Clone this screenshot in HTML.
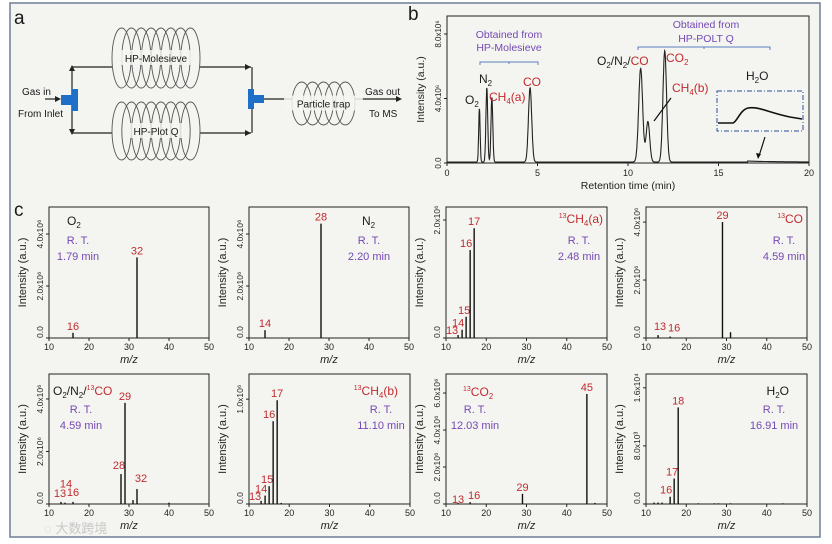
<!DOCTYPE html>
<html><head><meta charset="utf-8">
<style>
html,body{margin:0;padding:0;background:#fff;}
svg{display:block;font-family:"Liberation Sans","Noto Sans CJK SC",sans-serif;}
.red{fill:#c22a2e}.pur{fill:#7448b4}.blk{fill:#1a1a1a}
</style></head>
<body>
<svg id="fig" width="832" height="544" viewBox="0 0 832 544" xmlns="http://www.w3.org/2000/svg">
<rect x="10" y="3" width="810" height="534" fill="#f4f5f1" stroke="#6f7f96" stroke-width="1.5"/>
<text x="14" y="24" font-size="19" class="blk">a</text>
<text x="408" y="20" font-size="19" class="blk">b</text>
<text x="14" y="216" font-size="19" class="blk">c</text>

<g id="diagram" stroke="#222" stroke-width="1.2" fill="none">
  <line x1="72" y1="67" x2="112" y2="67"/><line x1="200" y1="67" x2="251" y2="67"/>
  <line x1="72" y1="133" x2="112" y2="133"/><line x1="200" y1="133" x2="251" y2="133"/>
  <line x1="72" y1="70" x2="72" y2="130"/><line x1="252" y1="67" x2="252" y2="133"/>
  <line x1="45" y1="99" x2="60" y2="99"/><line x1="264" y1="99" x2="292" y2="99"/><line x1="355" y1="99" x2="398" y2="99"/>
  <path d="M72 65 l-3 6 h6z M72 135 l-3 -6 h6z M251 67 l-6 -3 v6z M251 133 l-6 -3 v6z M61 99 l-6 -3 v6z M402 99 l-6 -3 v6z" fill="#222" stroke="none"/>
</g>
<path d="M61 95 h11 v-6 h6 v22 h-6 v-6 h-11z" fill="#1d6fc8"/>
<path d="M248 89 h6 v6 h10 v8 h-10 v6 h-6z" fill="#1d6fc8"/>
<g id="coils"></g>
<g font-size="10" class="blk">
<text x="22" y="95">Gas in</text><text x="18" y="117">From Inlet</text>
<text x="365" y="95">Gas out</text><text x="369" y="117">To MS</text>
</g>

<g id="chrom"></g>
<g id="spectra"></g>
<text x="44" y="533" font-size="13" fill="#c8c8c8">◌ 大数跨境</text>
</svg>
<script>
const NS="http://www.w3.org/2000/svg";
function mk(tag,attrs,parent,text){const e=document.createElementNS(NS,tag);for(const k in attrs)e.setAttribute(k,attrs[k]);if(text!==undefined)e.textContent=text;parent.appendChild(e);return e;}

const coilG=document.getElementById('coils');
function coil(x0,y0,w,h,n,label,name){
  const g=mk('g',{},coilG);
  
  
  const ew=w/(n*0.45+1);
  for(let i=0;i<n;i++){
    const cx=x0+ew/2+i*(w-ew)/(n-1);
    mk('ellipse',{cx:cx,cy:y0+h/2,rx:ew/2,ry:h/2,fill:'none',stroke:'#555','stroke-width':0.9},g);
  }
  const tw=label.length*5.6+6;
  mk('rect',{x:x0+w/2-tw/2,y:y0+h/2-8,width:tw,height:15,rx:3,fill:'#f4f5f1',opacity:0.85},g);
  mk('text',{x:x0+w/2,y:y0+h/2+4,'font-size':10,'text-anchor':'middle',fill:'#1a1a1a'},g,label);
}
coil(112,28,88,60,8,'HP-Molesieve','coil-hp-molesieve');
coil(112,102,88,58,8,'HP-Plot Q','coil-hp-plot-q');
coil(292,82,63,43,5,'Particle trap','coil-particle-trap');

const peakNames=['O2','N2','CH4(a)','CO','O2/N2/CO','CH4(b)','CO2'];
const peakTimes=[1.79,2.20,2.48,4.59,10.70,11.10,12.03];
const peakHeights=[3.3,4.6,4.0,4.6,5.8,2.5,6.9];
const peakWidths=[0.04,0.05,0.05,0.09,0.11,0.1,0.1];
const chromXTicks=[0,5,10,15,20];
const chromYTicks=[0,4,8];
const chromYTickLabels=['0.0','4.0x10⁶','8.0x10⁶'];

(function(){
  const g=document.getElementById('chrom');
  const L=447,R=809,T=16,B=163, xMax=20, yMax=8*(B-T)/(B-34);
  const X=v=>L+(v/xMax)*(R-L), Y=v=>B-(v/yMax)*(B-T);
  const box=mk('rect',{x:L,y:T,width:R-L,height:B-T,fill:'none',stroke:'#222','stroke-width':1},g);
  
  
  chromXTicks.forEach(v=>{
    mk('line',{x1:X(v),y1:B,x2:X(v),y2:B+3,stroke:'#222'},g);
    const t=mk('text',{x:X(v),y:B+13,'font-size':9,'text-anchor':'middle',fill:'#222'},g,v);
    
    
  });
  chromYTicks.forEach((v,i)=>{
    mk('line',{x1:L-3,y1:Y(v),x2:L,y2:Y(v),stroke:'#222'},g);
    const t=mk('text',{x:L-6,y:Y(v),'font-size':8,'text-anchor':'middle',fill:'#222',transform:`rotate(-90 ${L-6} ${Y(v)})`},g,chromYTickLabels[i]);
    
    
  });
  const xt=mk('text',{x:(L+R)/2,y:B+26,'font-size':10.5,'text-anchor':'middle',fill:'#222'},g,'Retention time (min)');
  
  
  const yt=mk('text',{x:424,y:(T+B)/2,'font-size':10.5,'text-anchor':'middle',fill:'#222',transform:`rotate(-90 424 ${(T+B)/2})`},g,'Intensity (a.u.)');
  
  
  let d='';
  for(let t=0;t<=20;t+=0.01){
    let v=0.06+(t>16.6&&t<20?0.05*Math.exp(-(t-16.9)*0.6):0);
    peakTimes.forEach((p,i)=>{v+=peakHeights[i]*Math.exp(-Math.pow((t-p)/peakWidths[i],2)/2);});
    d+=(d?'L':'M')+X(t).toFixed(1)+' '+Y(Math.min(v,yMax)).toFixed(1);
  }
  const tr=mk('path',{d:d,fill:'none',stroke:'#222','stroke-width':1.1},g);
  
  
  const ins=mk('rect',{x:717,y:91,width:86,height:40,fill:'none',stroke:'#2a4f9a','stroke-width':1,'stroke-dasharray':'5 2 1 2'},g);
  
  
  mk('path',{d:'M718 123 L733 123 C737 122 740 110 748 108 C758 106 770 113 790 117 L802 119',fill:'none',stroke:'#111','stroke-width':1.6},g);
  mk('line',{x1:765,y1:137,x2:759,y2:156,stroke:'#111','stroke-width':1.2},g);
  mk('path',{d:'M758 159 l-2 -6 l5 1z',fill:'#111'},g);
  mk('line',{x1:671,y1:98,x2:654,y2:121,stroke:'#111','stroke-width':1.2},g);
  mk('path',{d:'M480 65 v-3 h58 v3 M509 62 v2',fill:'none',stroke:'#5b7fc0','stroke-width':1},g);
  mk('path',{d:'M638 50 v-3 h132 v3 M704 47 v2',fill:'none',stroke:'#5b7fc0','stroke-width':1},g);
  const ann=[['Obtained from',509,38],['HP-Molesieve',509,51],['Obtained from',706,28],['HP-POLT Q',706,42]];
  ann.forEach(a=>{const t=mk('text',{x:a[1],y:a[2],'font-size':10.5,'text-anchor':'middle',class:'pur'},g,a[0]);
    
    });
  const labs=mk('g',{'font-size':12},g);
  
  
  labs.innerHTML=`<text x="465" y="104" class="blk">O<tspan font-size="8" dy="3">2</tspan></text>
  <text x="479" y="83" class="blk">N<tspan font-size="8" dy="3">2</tspan></text>
  <text x="489" y="101" class="red">CH<tspan font-size="8" dy="3">4</tspan><tspan dy="-3">(a)</tspan></text>
  <text x="523" y="86" class="red">CO</text>
  <text x="597" y="65" class="blk">O<tspan font-size="8" dy="3">2</tspan><tspan dy="-3">/N</tspan><tspan font-size="8" dy="3">2</tspan><tspan dy="-3">/</tspan><tspan class="red">CO</tspan></text>
  <text x="666" y="62" class="red">CO<tspan font-size="8" dy="3">2</tspan></text>
  <text x="672" y="92" class="red">CH<tspan font-size="8" dy="3">4</tspan><tspan dy="-3">(b)</tspan></text>
  <text x="746" y="80" class="blk">H<tspan font-size="8" dy="3">2</tspan><tspan dy="-3">O</tspan></text>`;
})();

const mzO2=[16,32];           const intO2=[0.2,3.1];
const mzN2=[14,28];           const intN2=[0.3,4.4];
const mzCH4a=[13,14,15,16,17]; const intCH4a=[0.05,0.14,0.36,1.49,1.86];
const mzCO=[13,16,29,31];     const intCO=[0.1,0.05,4.0,0.2];
const mzMix=[13,14,16,28,29,31,32,40]; const intMix=[0.08,0.05,0.08,1.14,3.85,0.15,0.57,0.05];
const mzCH4b=[13,14,15,16,17,18]; const intCH4b=[0.03,0.08,0.17,0.79,0.99,0.01];
const mzCO2=[13,16,29,45,47]; const intCO2=[0.05,0.1,0.55,5.95,0.06];
const mzH2O=[12,13,14,16,17,18,23,27,28,31,44]; const intH2O=[0.02,0.02,0.02,0.1,0.35,1.33,0.01,0.01,0.01,0.01,0.01];
const labelsO2=['16','32'], labelsN2=['14','28'], labelsCH4a=['13','14','15','16','17'], labelsCO=['13','16','29'];
const labelsMix=['13','14','16','28','29','32'], labelsCH4b=['13','14','15','16','17'], labelsCO2=['13','16','29','45'], labelsH2O=['16','17','18'];
const yTicksA=[0,2,4], yTickTextA=['0.0','2.0x10⁶','4.0x10⁶'];
const yTicksB=[0,2], yTickTextB=['0.0','2.0x10⁶'];
const yTicksC=[0,1], yTickTextC=['0.0','1.0x10⁶'];
const yTicksD=[0,2,4,6], yTickTextD=['0.0','2.0x10⁶','4.0x10⁶','6.0x10⁶'];
const yTicksE=[0,0.8,1.6], yTickTextE=['0.0','8.0x10³','1.6x10⁴'];
const mzTicks=[10,20,30,40,50];

const panels=[
 {name:'spectrum-o2',L:49,R:209,T:207,B:338,yMax:5.04,mz:mzO2,inten:intO2,labels:labelsO2,yt:yTicksA,ytt:yTickTextA,lo:{},
  title:'<tspan class="blk">O<tspan font-size="8" dy="3">2</tspan></tspan>',tx:67,ty:225,ta:'start',rx:78,ry:244},
 {name:'spectrum-n2',L:249,R:409,T:207,B:338,yMax:5.04,mz:mzN2,inten:intN2,labels:labelsN2,yt:yTicksA,ytt:yTickTextA,lo:{},
  title:'<tspan class="blk">N<tspan font-size="8" dy="3">2</tspan></tspan>',tx:362,ty:225,ta:'start',rx:369,ry:244},
 {name:'spectrum-13ch4-a',L:446,R:607,T:207,B:338,yMax:2.22,mz:mzCH4a,inten:intCH4a,labels:labelsCH4a,yt:yTicksB,ytt:yTickTextB,lo:{'13':[-6,2],'14':[-4,0],'15':[-2,0],'16':[-4,0]},
  title:'<tspan class="red"><tspan font-size="7" dy="-5">13</tspan><tspan dy="5">CH</tspan><tspan font-size="8" dy="3">4</tspan><tspan dy="-3">(a)</tspan></tspan>',tx:603,ty:223,ta:'end',rx:579,ry:244},
 {name:'spectrum-13co',L:646,R:807,T:207,B:338,yMax:4.52,mz:mzCO,inten:intCO,labels:labelsCO,yt:yTicksA,ytt:yTickTextA,lo:{'13':[2,-2],'16':[4,-2]},
  title:'<tspan class="red"><tspan font-size="7" dy="-5">13</tspan><tspan dy="5">CO</tspan></tspan>',tx:803,ty:223,ta:'end',rx:784,ry:244},
 {name:'spectrum-o2-n2-13co',L:49,R:209,T:374,B:504,yMax:4.95,mz:mzMix,inten:intMix,labels:labelsMix,yt:yTicksA,ytt:yTickTextA,lo:{'13':[-1,-2],'14':[1,-12],'16':[0,-3],'28':[-2,-2],'32':[4,-4]},
  title:'<tspan class="blk">O<tspan font-size="8" dy="3">2</tspan><tspan dy="-3">/N</tspan><tspan font-size="8" dy="3">2</tspan><tspan dy="-3">/</tspan></tspan><tspan class="red"><tspan font-size="7" dy="-5">13</tspan><tspan dy="5">CO</tspan></tspan>',tx:53,ty:395,ta:'start',rx:81,ry:413},
 {name:'spectrum-13ch4-b',L:249,R:410,T:374,B:504,yMax:1.24,mz:mzCH4b,inten:intCH4b,labels:labelsCH4b,yt:yTicksC,ytt:yTickTextC,lo:{'13':[-6,2],'14':[-4,0],'15':[-2,0],'16':[-4,0]},
  title:'<tspan class="red"><tspan font-size="7" dy="-5">13</tspan><tspan dy="5">CH</tspan><tspan font-size="8" dy="3">4</tspan><tspan dy="-3">(b)</tspan></tspan>',tx:398,ty:395,ta:'end',rx:381,ry:413},
 {name:'spectrum-13co2',L:446,R:607,T:374,B:504,yMax:7.03,mz:mzCO2,inten:intCO2,labels:labelsCO2,yt:yTicksD,ytt:yTickTextD,lo:{'13':[0,3],'16':[4,0]},
  title:'<tspan class="red"><tspan font-size="7" dy="-5">13</tspan><tspan dy="5">CO</tspan><tspan font-size="8" dy="3">2</tspan></tspan>',tx:463,ty:396,ta:'start',rx:475,ry:413},
 {name:'spectrum-h2o',L:646,R:807,T:374,B:504,yMax:1.79,mz:mzH2O,inten:intH2O,labels:labelsH2O,yt:yTicksE,ytt:yTickTextE,lo:{'16':[-4,0],'17':[-2,0]},
  title:'<tspan class="blk">H<tspan font-size="8" dy="3">2</tspan><tspan dy="-3">O</tspan></tspan>',tx:789,ty:395,ta:'end',rx:774,ry:413}
];
const rtTexts=['1.79 min','2.20 min','2.48 min','4.59 min','4.59 min','11.10 min','12.03 min','16.91 min'];

const SG=document.getElementById('spectra');
panels.forEach((p,pi)=>{
  const g=mk('g',{},SG);
  
  
  const X=v=>p.L+(v-10)/40*(p.R-p.L), Y=v=>p.B-(v/p.yMax)*(p.B-p.T);
  mk('rect',{x:p.L,y:p.T,width:p.R-p.L,height:p.B-p.T,fill:'none',stroke:'#222','stroke-width':1},g);
  mzTicks.forEach(v=>{
    mk('line',{x1:X(v),y1:p.B,x2:X(v),y2:p.B+3,stroke:'#222'},g);
    const t=mk('text',{x:X(v),y:p.B+12,'font-size':9,'text-anchor':'middle',fill:'#222'},g,v);
    
    
  });
  p.yt.forEach((v,i)=>{
    mk('line',{x1:p.L-3,y1:Y(v),x2:p.L,y2:Y(v),stroke:'#222'},g);
    const t=mk('text',{x:p.L-6,y:Y(v),'font-size':8.5,'text-anchor':i===0?'start':'middle',fill:'#222',transform:`rotate(-90 ${p.L-6} ${Y(v)})`},g,p.ytt[i]);
    
    
  });
  const xt=mk('text',{x:(p.L+p.R)/2,y:p.B+25,'font-size':11,'font-style':'italic','text-anchor':'middle',fill:'#222'},g,'m/z');
  
  
  const cy=(p.T+p.B)/2, ax=p.L-23;
  const yt=mk('text',{x:ax,y:cy,'font-size':11,'text-anchor':'middle',fill:'#222',transform:`rotate(-90 ${ax} ${cy})`},g,'Intensity (a.u.)');
  
  
  p.mz.forEach((m,i)=>{
    const b=mk('line',{x1:X(m),y1:p.B,x2:X(m),y2:Y(p.inten[i]),stroke:'#111','stroke-width':1.4},g);
    
    
    const lab=String(m);
    if(p.labels.includes(lab)){
      const o=p.lo[lab]||[0,0];
      const t=mk('text',{x:X(m)+o[0],y:Y(p.inten[i])-3+o[1],'font-size':11,'text-anchor':'middle',class:'red'},g,lab);
      
      
    }
  });
  const tt=mk('text',{x:p.tx,y:p.ty,'font-size':12,'text-anchor':p.ta},g);
  tt.innerHTML=p.title;
  
  
  const r1=mk('text',{x:p.rx,y:p.ry,'font-size':11,'text-anchor':'middle',class:'pur'},g,'R. T.');
  
  
  const r2=mk('text',{x:p.rx,y:p.ry+16,'font-size':11,'text-anchor':'middle',class:'pur'},g,rtTexts[pi]);
  
  
});
</script>
</body></html>
